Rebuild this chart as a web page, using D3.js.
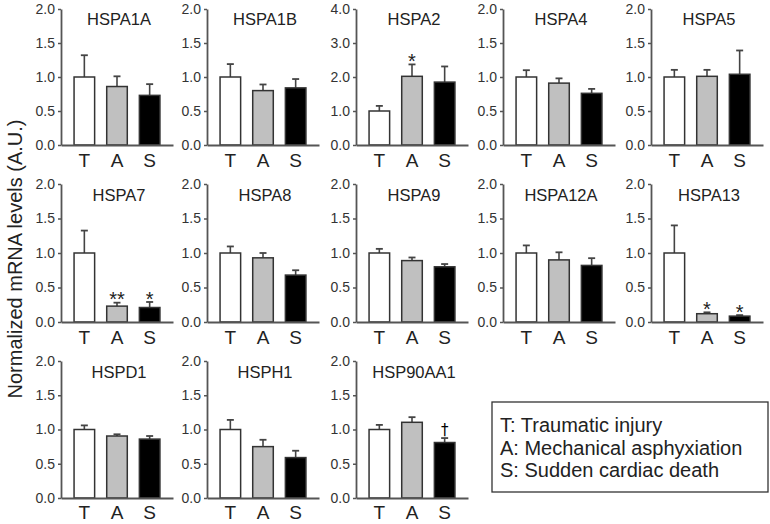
<!DOCTYPE html>
<html><head><meta charset="utf-8">
<script src="https://cdn.jsdelivr.net/npm/d3@7/dist/d3.min.js"></script>
<style>
body{margin:0;background:#fff;}
svg{display:block;font-family:"Liberation Sans",Arial,Helvetica,sans-serif;}
</style></head>
<body>
<svg id="chart" width="770" height="524"></svg>
<script>
const groups = ["T", "A", "S"];
const genes = ["HSPA1A","HSPA1B","HSPA2","HSPA4","HSPA5","HSPA7","HSPA8","HSPA9","HSPA12A","HSPA13","HSPD1","HSPH1","HSP90AA1"];
const yMax = [2,2,4,2,2, 2,2,2,2,2, 2,2,2];
const meanT = [1,1,1,1,1, 1,1,1,1,1, 1,1,1];
const meanA = [0.86,0.80,2.02,0.91,1.01, 0.23,0.93,0.89,0.90,0.12, 0.905,0.75,1.105];
const meanS = [0.73,0.84,1.85,0.76,1.04, 0.21,0.68,0.80,0.82,0.085, 0.86,0.59,0.81];
const semT = [0.32,0.19,0.15,0.10,0.105, 0.325,0.095,0.06,0.11,0.40, 0.06,0.14,0.067];
const semA = [0.15,0.09,0.35,0.07,0.095, 0.05,0.07,0.045,0.11,0.02, 0.025,0.10,0.075];
const semS = [0.165,0.13,0.46,0.065,0.35, 0.08,0.07,0.04,0.105,0.015, 0.045,0.10,0.065];
const markA = ["","","*","","", "**","","","","*", "","",""];
const markS = ["","","","","", "*","","","","*", "","","\u2020"];
const legendLines = ["T: Traumatic injury","A: Mechanical asphyxiation","S: Sudden cardiac death"];
const yLabel = "Normalized mRNA levels (A.U.)";

const colX = [61, 207, 356, 503, 651];
const rowY0 = [145, 322, 498];
const rowH = [136, 138, 137];
const rowPad = [9, 9, 7.5];
const plotW = 112;
const fills = {T:"#ffffff", A:"#c0c0c0", S:"#000000"};
const ink = "#222", axisCol = "#555";

const svg = d3.select("#chart");

genes.forEach((gene, i) => {
  const r = Math.floor(i / 5), c = i % 5;
  const plotH = rowH[r];
  const g = svg.append("g").attr("transform", `translate(${colX[c]},${rowY0[r] - plotH})`);
  const y = d3.scaleLinear().domain([0, yMax[i]]).range([plotH, 0]);
  const x = d3.scaleBand().domain(groups).range([0, plotW]).paddingInner(0.37).paddingOuter(0.4);
  const step = yMax[i] === 4 ? 1 : 0.5;
  const ticks = d3.range(0, yMax[i] + step / 2, step);

  const rows = [
    {k:"T", m:meanT[i], e:semT[i], mark:""},
    {k:"A", m:meanA[i], e:semA[i], mark:markA[i]},
    {k:"S", m:meanS[i], e:semS[i], mark:markS[i]}
  ];

  rows.forEach(d => {
    const cx = x(d.k) + x.bandwidth() / 2;
    g.append("line").attr("x1", cx).attr("x2", cx).attr("y1", y(d.m)).attr("y2", y(d.m + d.e))
      .attr("stroke", "#444").attr("stroke-width", 1.6);
    g.append("line").attr("x1", cx - 3.5).attr("x2", cx + 3.5).attr("y1", y(d.m + d.e)).attr("y2", y(d.m + d.e))
      .attr("stroke", "#444").attr("stroke-width", 1.8);
  });

  g.selectAll("rect.bar").data(rows).join("rect").attr("class", "bar")
    .attr("x", d => x(d.k)).attr("width", x.bandwidth())
    .attr("y", d => y(d.m)).attr("height", d => plotH - y(d.m))
    .attr("fill", d => fills[d.k]).attr("stroke", "#333").attr("stroke-width", 1.5);

  rows.filter(d => d.mark).forEach(d => {
    const cx = x(d.k) + x.bandwidth() / 2;
    const top = y(d.m + d.e);
    if (d.mark === "\u2020") {
      g.append("text").attr("x", cx).attr("y", top - 3).attr("text-anchor", "middle")
        .attr("font-size", 15).attr("font-family", "'DejaVu Sans', sans-serif").attr("fill", "#000").text(d.mark);
    } else {
      g.append("text").attr("x", cx).attr("y", top + 3.6).attr("text-anchor", "middle")
        .attr("font-size", 20).attr("fill", ink).text(d.mark);
    }
  });

  const ya = g.append("g").call(d3.axisLeft(y).tickValues(ticks).tickSize(3).tickSizeOuter(0).tickPadding(3)
      .tickFormat(d3.format(".1f")));
  ya.select(".domain").attr("stroke", axisCol).attr("stroke-width", 1.8);
  ya.selectAll(".tick line").attr("stroke", axisCol).attr("stroke-width", 1.5);
  ya.selectAll(".tick text").attr("font-size", 14).attr("fill", "#333").attr("font-family", null);

  const xa = g.append("g").attr("transform", `translate(0,${plotH})`)
    .call(d3.axisBottom(x).tickSize(0).tickSizeOuter(0).tickPadding(rowPad[r]));
  xa.select(".domain").attr("stroke", axisCol).attr("stroke-width", 1.8);
  xa.selectAll(".tick text").attr("font-size", 19).attr("fill", ink).attr("font-family", null);

  g.append("text").attr("x", 58).attr("y", r === 0 ? 16 : 17).attr("text-anchor", "middle")
    .attr("font-size", 16.5).attr("fill", ink).text(gene);
});

svg.append("text").attr("transform", "translate(22,259) rotate(-90)")
  .attr("text-anchor", "middle").attr("font-size", 20).attr("fill", ink).text(yLabel);

svg.append("rect").attr("x", 492).attr("y", 402).attr("width", 276).attr("height", 90)
  .attr("fill", "none").attr("stroke", "#333").attr("stroke-width", 1.3);
svg.selectAll("text.leg").data(legendLines).join("text").attr("class", "leg")
  .attr("x", 500).attr("y", (d, k) => 432 + k * 22.5)
  .attr("font-size", 20).attr("fill", ink).text(d => d);
</script>
</body></html>
